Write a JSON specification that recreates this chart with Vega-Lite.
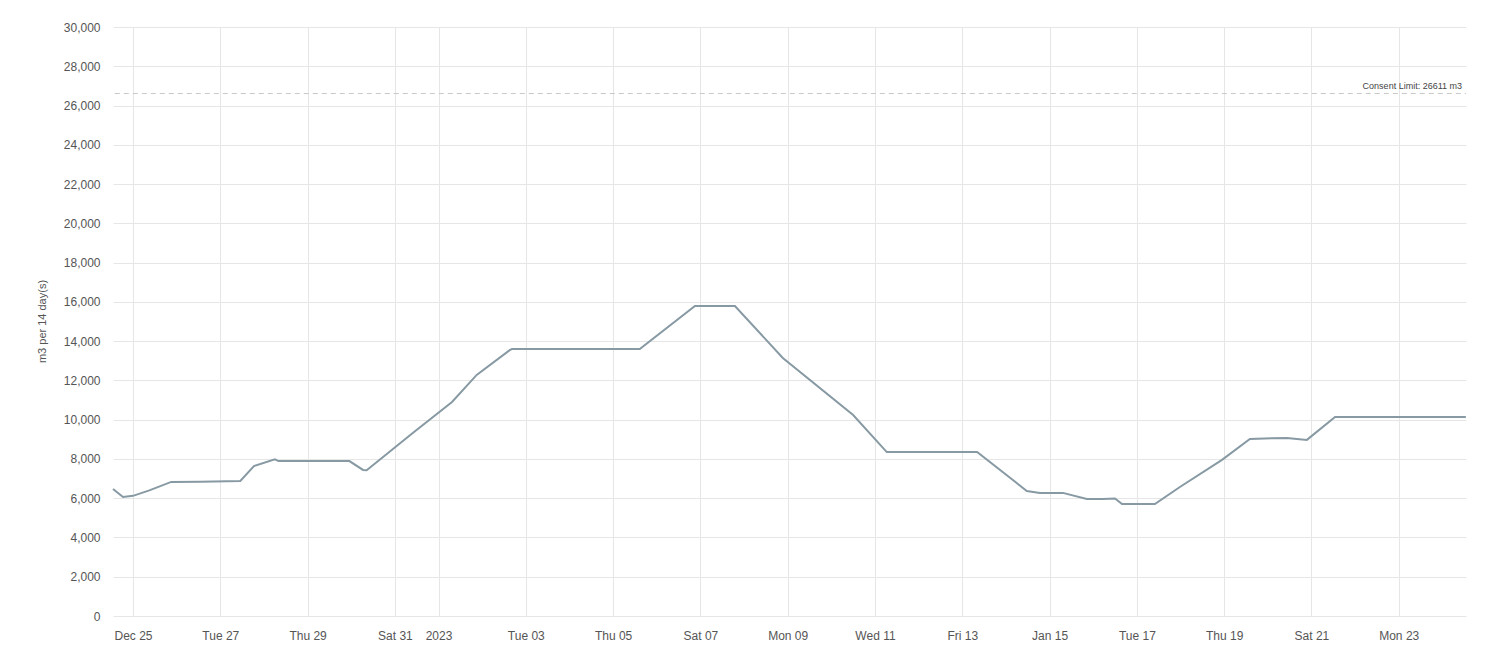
{
  "$schema": "https://vega.github.io/schema/vega-lite/v6.json",
  "width": 1353,
  "height": 589,
  "autosize": {"type": "none"},
  "padding": {"left": 113, "top": 27, "right": 34, "bottom": 48},
  "background": "white",
  "config": {
    "font": "Liberation Sans",
    "view": {"stroke": null},
    "axis": {
      "domain": false,
      "ticks": false,
      "gridColor": "#e6e6e6",
      "gridWidth": 1,
      "labelColor": "#555555",
      "labelFontSize": 12,
      "labelFont": "Liberation Sans",
      "titleColor": "#555555",
      "titleFont": "Liberation Sans",
      "titleFontWeight": "normal"
    }
  },
  "datasets": {
    "flow": [
      {"time": "2022-12-24T13:00:00", "value": 6470},
      {"time": "2022-12-24T18:30:00", "value": 6060},
      {"time": "2022-12-25T00:00:00", "value": 6120},
      {"time": "2022-12-25T09:00:00", "value": 6400},
      {"time": "2022-12-25T21:00:00", "value": 6830},
      {"time": "2022-12-26T13:00:00", "value": 6840},
      {"time": "2022-12-27T11:00:00", "value": 6880},
      {"time": "2022-12-27T18:30:00", "value": 7640},
      {"time": "2022-12-28T06:00:00", "value": 7980},
      {"time": "2022-12-28T08:00:00", "value": 7890},
      {"time": "2022-12-29T23:00:00", "value": 7890},
      {"time": "2022-12-30T06:30:00", "value": 7440},
      {"time": "2022-12-30T08:30:00", "value": 7420},
      {"time": "2022-12-31T09:50:00", "value": 9320},
      {"time": "2023-01-01T07:25:00", "value": 10900},
      {"time": "2023-01-01T21:00:00", "value": 12280},
      {"time": "2023-01-02T15:20:00", "value": 13550},
      {"time": "2023-01-02T16:25:00", "value": 13600},
      {"time": "2023-01-05T14:40:00", "value": 13600},
      {"time": "2023-01-06T21:00:00", "value": 15790},
      {"time": "2023-01-07T19:00:00", "value": 15790},
      {"time": "2023-01-08T21:20:00", "value": 13140},
      {"time": "2023-01-10T12:00:00", "value": 10240},
      {"time": "2023-01-11T06:30:00", "value": 8350},
      {"time": "2023-01-13T08:10:00", "value": 8350},
      {"time": "2023-01-14T11:30:00", "value": 6370},
      {"time": "2023-01-14T18:40:00", "value": 6270},
      {"time": "2023-01-15T07:20:00", "value": 6270},
      {"time": "2023-01-15T20:30:00", "value": 5960},
      {"time": "2023-01-16T05:20:00", "value": 5960},
      {"time": "2023-01-16T12:00:00", "value": 5990},
      {"time": "2023-01-16T15:50:00", "value": 5700},
      {"time": "2023-01-17T09:55:00", "value": 5700},
      {"time": "2023-01-17T23:40:00", "value": 6570},
      {"time": "2023-01-18T22:50:00", "value": 7950},
      {"time": "2023-01-19T14:10:00", "value": 9020},
      {"time": "2023-01-20T10:30:00", "value": 9070},
      {"time": "2023-01-20T21:30:00", "value": 8970},
      {"time": "2023-01-21T13:00:00", "value": 10140},
      {"time": "2023-01-24T12:55:00", "value": 10140}
    ],
    "limit": [
      {"time": "2022-12-24T14:00:00", "end": "2023-01-24T13:00:00", "value": 26611, "label": "Consent Limit: 26611 m3"}
    ]
  },
  "encoding": {
    "x": {
      "field": "time",
      "type": "temporal",
      "scale": {"domain": [{"year": 2022, "month": 12, "date": 24, "hours": 13}, {"year": 2023, "month": 1, "date": 24, "hours": 13}]},
      "axis": {"title": null, "tickCount": {"interval": "day", "step": 2}, "labelPadding": 14, "grid": true, "labelFlush": false, "labelOverlap": false}
    },
    "y": {
      "field": "value",
      "type": "quantitative",
      "scale": {"domain": [0, 30000], "nice": false},
      "axis": {"title": "m3 per 14 day(s)", "values": [0, 2000, 4000, 6000, 8000, 10000, 12000, 14000, 16000, 18000, 20000, 22000, 24000, 26000, 28000, 30000], "format": ",.0f", "labelOverlap": false, "labelPadding": 13, "titleFontSize": 11, "titleX": -71, "titleY": 294, "titleAngle": -90, "titleBaseline": "middle", "titleAlign": "center"}
    }
  },
  "layer": [
    {
      "data": {"name": "flow"},
      "mark": {"type": "line", "color": "#8799a3", "strokeWidth": 2, "interpolate": "linear"}
    },
    {
      "data": {"name": "limit"},
      "mark": {"type": "rule", "color": "#c8c8c8", "strokeWidth": 1, "strokeDash": [5, 4]},
      "encoding": {
        "x2": {"field": "end"}
      }
    },
    {
      "data": {"name": "limit"},
      "mark": {"type": "text", "align": "right", "baseline": "bottom", "dx": -4, "dy": -3, "fontSize": 9, "color": "#444444", "font": "Liberation Sans"},
      "encoding": {
        "x": {"field": "end", "type": "temporal"},
        "text": {"field": "label"}
      }
    }
  ]
}
